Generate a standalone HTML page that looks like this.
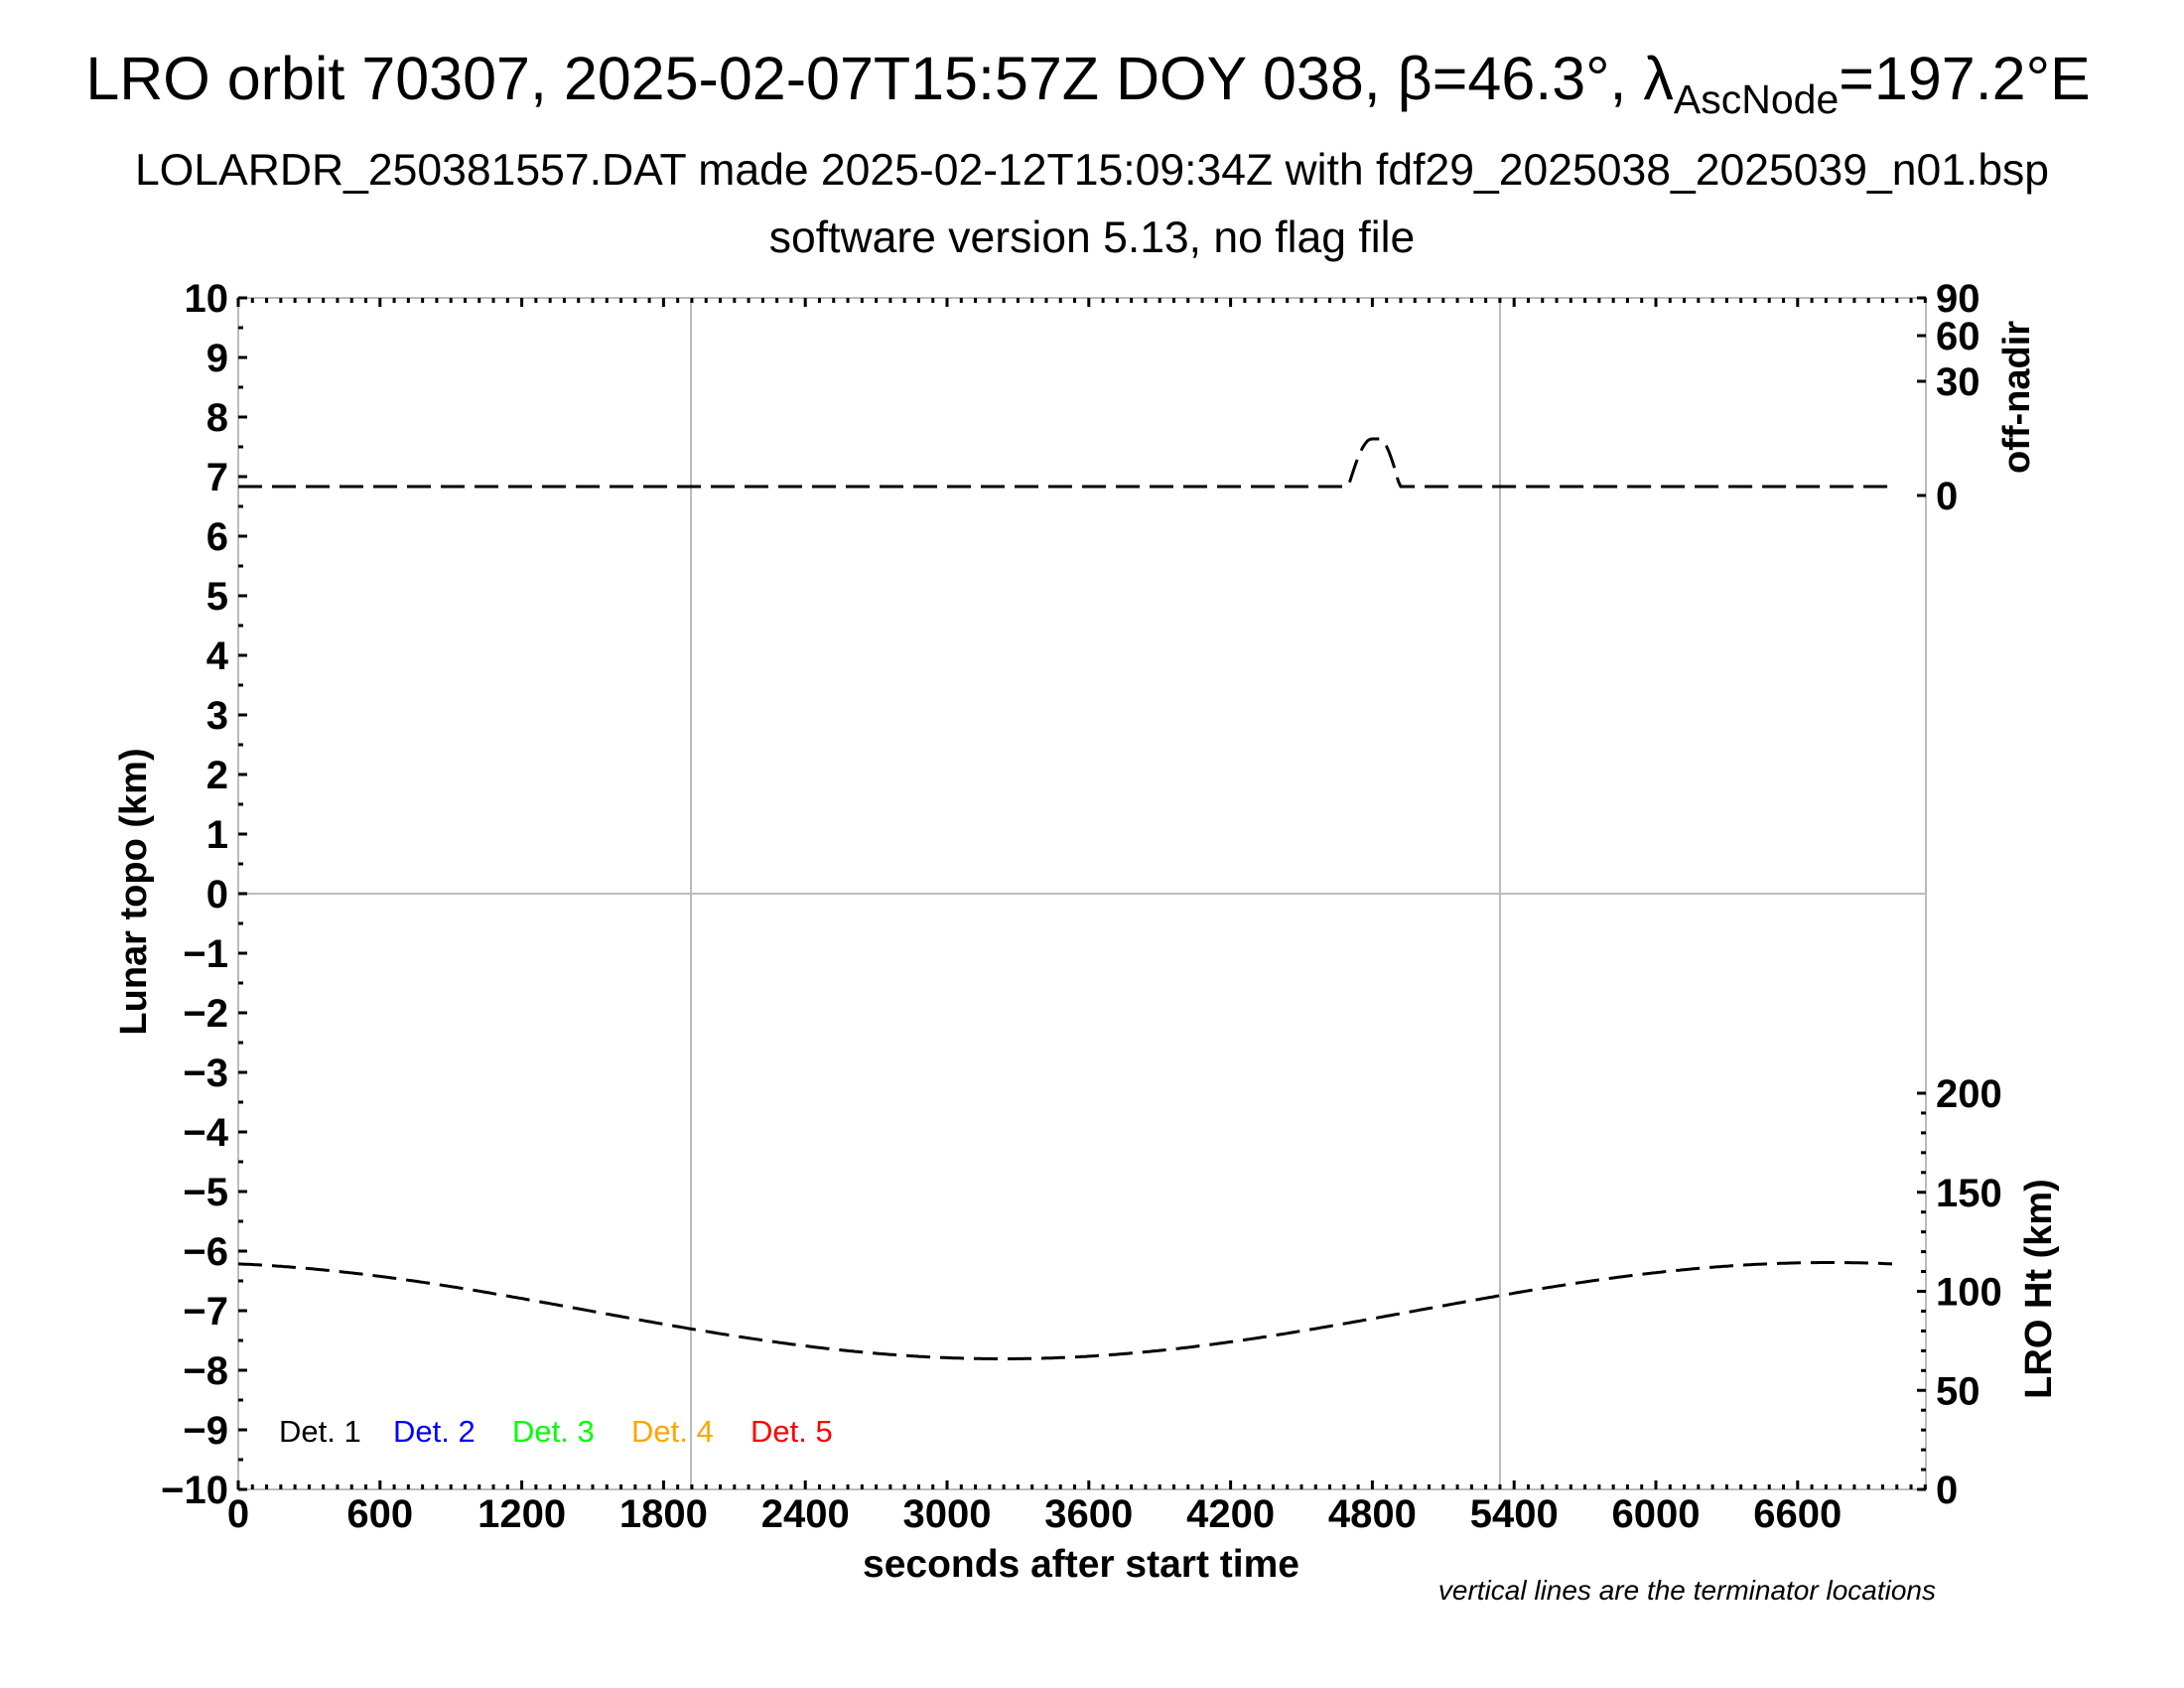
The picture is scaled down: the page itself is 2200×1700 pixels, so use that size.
<!DOCTYPE html>
<html><head><meta charset="utf-8"><style>
body{margin:0;background:#fff}
svg{display:block}
text{font-family:"Liberation Sans",sans-serif}
</style></head><body>
<svg id="s" width="2200" height="1700" xmlns="http://www.w3.org/2000/svg">
<text x="1096" y="100" font-size="61" text-anchor="middle">LRO orbit 70307, 2025-02-07T15:57Z DOY 038, β=46.3°, λ<tspan font-size="41" dy="14">AscNode</tspan><tspan dy="-14">=197.2°E</tspan></text>
<text x="1100" y="186" font-size="44.5" text-anchor="middle">LOLARDR_250381557.DAT made 2025-02-12T15:09:34Z with fdf29_2025038_2025039_n01.bsp</text>
<text x="1100" y="254" font-size="44.5" text-anchor="middle">software version 5.13, no flag file</text>
<g stroke="#bbb" stroke-width="2" fill="none">
<rect x="240" y="300" width="1700" height="1200"/>
<line x1="696" y1="300" x2="696" y2="1500"/>
<line x1="1511" y1="300" x2="1511" y2="1500"/>
<line x1="240" y1="900" x2="1940" y2="900"/>
</g>
<g id="ticks" stroke="#000" stroke-width="3"></g>
<g id="labels" font-size="40" font-weight="bold"></g>
<path id="p1" fill="none" stroke="#000" stroke-width="3" stroke-dasharray="24,10"/>
<path id="p2" fill="none" stroke="#000" stroke-width="3" stroke-dasharray="24,10"/>
<text x="1089" y="1588" font-size="39" font-weight="bold" text-anchor="middle">seconds after start time</text>
<text x="1950" y="1611" font-size="28" font-style="italic" text-anchor="end">vertical lines are the terminator locations</text>
<text transform="translate(147,898) rotate(-90)" font-size="38" font-weight="bold" text-anchor="middle">Lunar topo (km)</text>
<text transform="translate(2044,400) rotate(-90)" font-size="38" font-weight="bold" text-anchor="middle">off-nadir</text>
<text transform="translate(2066,1298) rotate(-90)" font-size="38" font-weight="bold" text-anchor="middle">LRO Ht (km)</text>
<g font-size="31">
<text x="281" y="1452" fill="#000">Det. 1</text>
<text x="396" y="1452" fill="#00f">Det. 2</text>
<text x="516" y="1452" fill="#0f0">Det. 3</text>
<text x="636" y="1452" fill="#ffa500">Det. 4</text>
<text x="756" y="1452" fill="#f00">Det. 5</text>
</g>
</svg>
<script>
var NS="http://www.w3.org/2000/svg";
function el(p,t,a,txt){var e=document.createElementNS(NS,t);for(var k in a)e.setAttribute(k,a[k]);if(txt!=null)e.textContent=txt;document.getElementById(p).appendChild(e);}
var k=0.238,X=function(t){return 240+t*k};
for(var v=-10;v<=10;v++){var y=900-v*60;el("ticks","line",{x1:240,y1:y,x2:249,y2:y});
 el("labels","text",{x:230,y:y+14,"text-anchor":"end"},(v<0?"\u2212"+(-v):""+v));
 if(v<10)el("ticks","line",{x1:240,y1:y-30,x2:245,y2:y-30});}
for(var t=0;t<=7140;t+=60){var x=X(t);if(x>1940)break;var maj=t%600==0;
 el("ticks","line",{x1:x,y1:1500,x2:x,y2:maj?1491:1495});el("ticks","line",{x1:x,y1:300,x2:x,y2:maj?309:305});
 if(maj&&t<=6600)el("labels","text",{x:x,y:1538,"text-anchor":"middle"},""+t);}
for(var h=0;h<=200;h+=10){var y=1500-h*1.995;el("ticks","line",{x1:1940,y1:y,x2:h%50==0?1931:1935,y2:y});
 if(h%50==0)el("labels","text",{x:1950,y:y+14},""+h);}
[[90,300],[60,338],[30,384],[0,499]].forEach(function(a){el("labels","text",{x:1950,y:a[1]+14},""+a[0]);el("ticks","line",{x1:1940,y1:a[1],x2:1931,y2:a[1]});});
var d="",d2="";
for(var t=0;t<=7008;t+=10){var x=X(t);
 var y=1320+48.5*Math.cos(2*Math.PI*(t-3235)/7000);d+=(t?"L":"M")+x.toFixed(1)+","+y.toFixed(1);
 var b=0;if(t>4698&&t<4798)b=Math.sin((t-4698)/100*Math.PI/2);else if(t>=4798&&t<=4828)b=1;else if(t>4828&&t<4916)b=Math.cos((t-4828)/88*Math.PI/2);
 var y2=490-48*b;d2+=(t?"L":"M")+x.toFixed(1)+","+y2.toFixed(1);}
document.getElementById("p2").setAttribute("d",d);
document.getElementById("p1").setAttribute("d",d2);
</script>
</body></html>
